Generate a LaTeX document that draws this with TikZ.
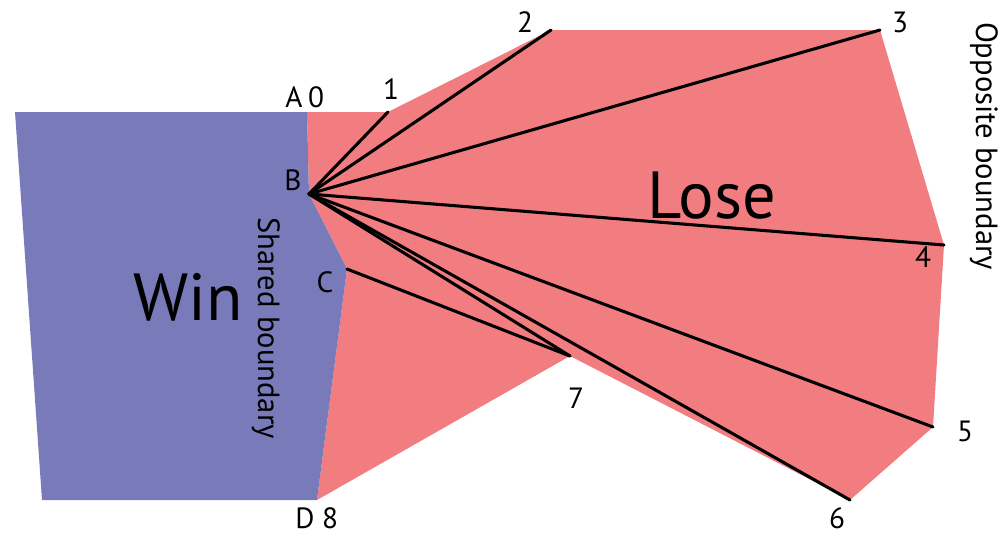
\documentclass[tikz,border=0pt]{standalone}
\usepackage{fontspec}
\setmainfont{PT Sans}
\usetikzlibrary{positioning}
\definecolor{cwin}{RGB}{121,122,186}
\definecolor{close}{RGB}{242,125,128}

\begin{document}
\begin{tikzpicture}[
    x=0.0264cm, y=-0.0264cm,
    fan/.style={
        line width=2.3pt,
        draw=black,
        line cap=round
    },
    ptlabel/.style={
        inner sep=0pt,
        font=\fontsize{22}{22}\selectfont
    },
    bigword/.style={
        inner sep=0pt,
        font=\fontsize{50}{50}\selectfont
    },
    sideword/.style={
        inner sep=0pt,
        rotate=-90,
        font=\fontsize{23}{23}\selectfont
    }
]
\useasboundingbox (0,0) rectangle (1006,536);

% Corner points of the two regions
\coordinate (wtl) at (15,112);
\coordinate (wbl) at (42,500);
\coordinate (a0) at (307,112);
\coordinate (b) at (309,194);
\coordinate (c) at (347,269);
\coordinate (d8) at (317,500);
\coordinate (p1) at (388,112);
\coordinate (p2) at (551,30);
\coordinate (p3) at (880,30);
\coordinate (p4) at (944,245);
\coordinate (p5) at (933,427);
\coordinate (p6) at (850,500);
\coordinate (p7) at (570,356);

% Regions
\fill[close] (a0) -- (p1) -- (p2) -- (p3) -- (p4) -- (p5) -- (p6) -- (p7) -- (d8) -- (c) -- (b) -- cycle;
\fill[cwin] (wtl) -- (a0) -- (b) -- (c) -- (d8) -- (wbl) -- cycle;

% Fan of lines from B, and C to 7
\foreach \p in {p1,p2,p3,p4,p5,p6,p7}
    \draw[fan] (b) -- (\p);
\draw[fan] (c) -- (p7);

% Point labels
\node[ptlabel] (lA) at (294,97) {A};
\node[ptlabel] (l0) at (316,97) {0};
\node[ptlabel] (l1) at (391,89) {1};
\node[ptlabel] (l2) at (525,22) {2};
\node[ptlabel] (l3) at (900,22) {3};
\node[ptlabel] (l4) at (923,257) {4};
\node[ptlabel] (l5) at (965,431) {5};
\node[ptlabel] (l6) at (837,518) {6};
\node[ptlabel] (l7) at (576,398) {7};
\node[ptlabel] (lB) at (293,180) {B};
\node[ptlabel] (lC) at (325,282) {C};
\node[ptlabel] (lD) at (305,518) {D};
\node[ptlabel] (l8) at (330,518) {8};

% Region names
\node[bigword] (win) at (188,297) {Win};
\node[bigword] (lose) at (712,196) {Lose};
\node[sideword] (shared) at (266,328) {Shared boundary};
\node[sideword] (opposite) at (984,146) {Opposite boundary};

\end{tikzpicture}
\end{document}
